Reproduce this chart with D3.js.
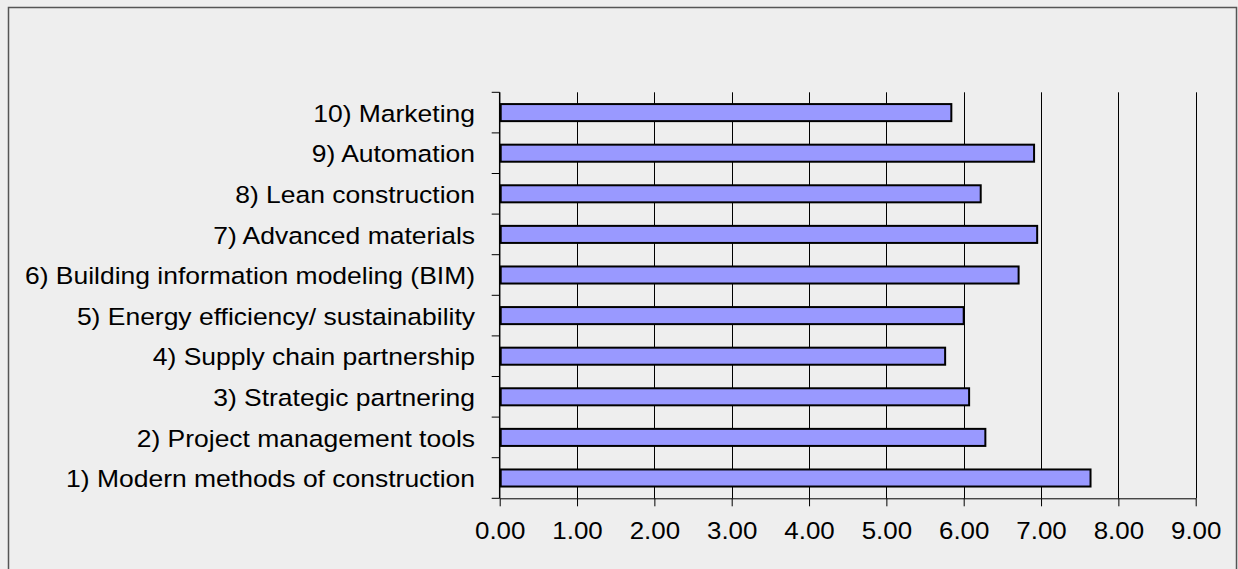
<!DOCTYPE html>
<html><head><meta charset="utf-8">
<script src="https://cdn.jsdelivr.net/npm/d3@7"></script>
<style>
html,body{margin:0;padding:0;background:#eeeeee;}
svg{display:block;}
</style></head>
<body>
<svg id="chart" width="1238" height="569"></svg>
<script>
const categories = [
  "1) Modern methods of construction",
  "2) Project management tools",
  "3) Strategic partnering",
  "4) Supply chain partnership",
  "5) Energy efficiency/ sustainability",
  "6) Building information modeling (BIM)",
  "7) Advanced materials",
  "8) Lean construction",
  "9) Automation",
  "10) Marketing"
];
const values = [7.64, 6.28, 6.07, 5.76, 6.00, 6.71, 6.95, 6.22, 6.91, 5.84];
const xTicks = [0,1,2,3,4,5,6,7,8,9];

(function(){
const svg = d3.select("#chart");
const FONT = "'Liberation Sans', Arial, sans-serif";
const FS = "23.5px";
svg.append("rect").attr("x",8.5).attr("y",7.5).attr("width",1228).attr("height",570)
  .attr("fill","#eeeeee").attr("stroke","#555").attr("stroke-width",1.5);

const pLeft = 499.7, pRight = 1195.7, pTop = 92.3, pBottom = 498.3;
const x = d3.scaleLinear().domain([0,9]).range([pLeft,pRight]);
const order = categories.slice().reverse();
const y = d3.scaleBand().domain(order).range([pTop,pBottom]).paddingInner(0.58).paddingOuter(0.29);
const yb = d3.scaleBand().domain(order).range([pTop,pBottom]);

svg.append("g").selectAll("line").data(xTicks.slice(1)).join("line")
  .attr("x1",d=>Math.round(x(d))+0.5).attr("x2",d=>Math.round(x(d))+0.5)
  .attr("y1",pTop).attr("y2",pBottom)
  .attr("stroke","#000").attr("stroke-width",1);

svg.append("g").selectAll("rect").data(categories).join("rect")
  .attr("x",x(0)+1)
  .attr("y",d=>y(d))
  .attr("width",(d,i)=>x(values[i])-x(0)-1)
  .attr("height",y.bandwidth())
  .attr("fill","#9999ff").attr("stroke","#000").attr("stroke-width",2);

const xAxis = d3.axisBottom(x).tickValues(xTicks).tickFormat(d3.format(".2f")).tickSizeInner(8).tickSizeOuter(0).tickPadding(0);
const gx = svg.append("g").attr("transform",`translate(0,${pBottom})`).call(xAxis);
gx.select(".domain").attr("stroke","#000");
gx.selectAll(".tick line").attr("stroke","#000");
gx.selectAll("text").attr("font-family",FONT).attr("font-size","24px")
  .attr("fill","#000").attr("y",0).attr("dy",null)
  .attr("transform","translate(0,40.7) scale(1.08,1)");

const gy = svg.append("g");
gy.append("line").attr("x1",pLeft).attr("x2",pLeft).attr("y1",pTop).attr("y2",pBottom).attr("stroke","#000").attr("stroke-width",1.5);
const bounds = order.map(c=>yb(c)).concat([pBottom]);
gy.selectAll("line.t").data(bounds).join("line").attr("class","t")
  .attr("x1",pLeft-8).attr("x2",pLeft).attr("y1",d=>d).attr("y2",d=>d).attr("stroke","#000").attr("stroke-width",1);
gy.selectAll("text").data(categories).join("text")
  .attr("x",0).attr("y",0)
  .attr("transform",d=>`translate(475,${yb(d)+yb.bandwidth()/2+9.1}) scale(1.127,1)`)
  .attr("text-anchor","end")
  .attr("font-family",FONT).attr("font-size",FS).attr("fill","#000")
  .text(d=>d);
})();
</script>
</body></html>
